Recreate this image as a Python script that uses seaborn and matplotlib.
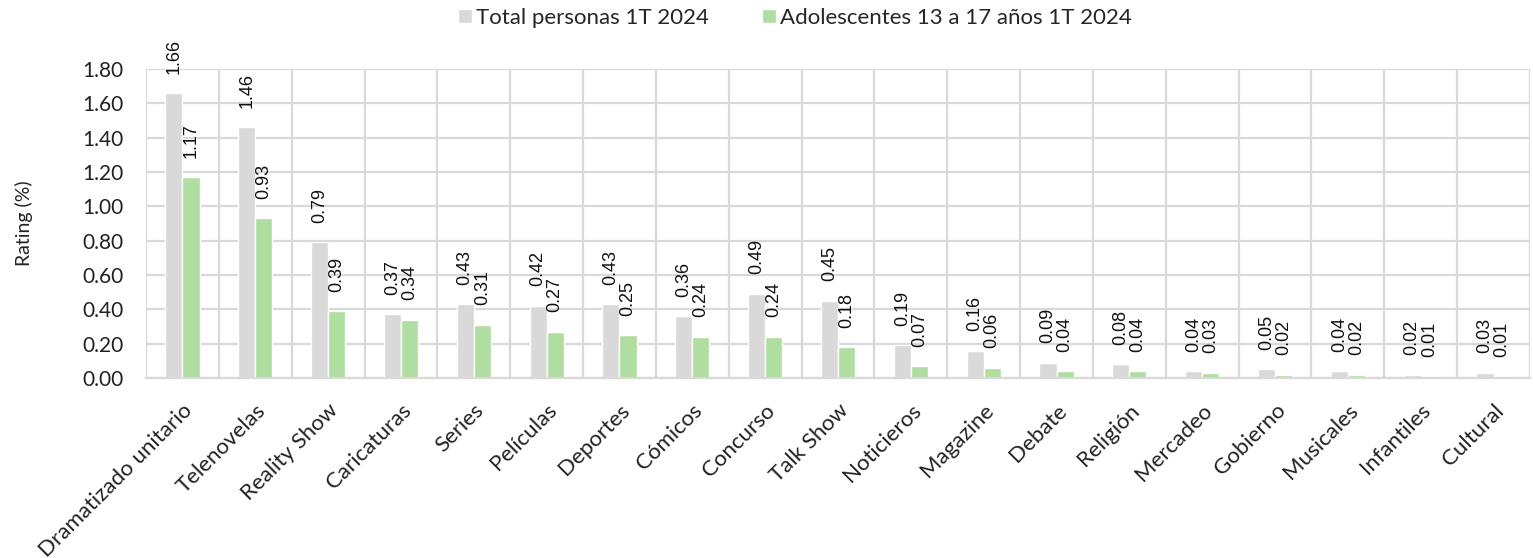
import matplotlib
matplotlib.use("Agg")
import matplotlib.pyplot as plt
import seaborn as sns
import pandas as pd
import numpy as np

categories = ["Dramatizado unitario", "Telenovelas", "Reality Show", "Caricaturas", "Series",
              "Películas", "Deportes", "Cómicos", "Concurso", "Talk Show", "Noticieros",
              "Magazine", "Debate", "Religión", "Mercadeo", "Gobierno", "Musicales",
              "Infantiles", "Cultural"]
total = [1.66, 1.46, 0.79, 0.37, 0.43, 0.42, 0.43, 0.36, 0.49, 0.45, 0.19, 0.16, 0.09,
         0.08, 0.04, 0.05, 0.04, 0.02, 0.03]
adolescentes = [1.17, 0.93, 0.39, 0.34, 0.31, 0.27, 0.25, 0.24, 0.24, 0.18, 0.07, 0.06,
                0.04, 0.04, 0.03, 0.02, 0.02, 0.01, 0.01]
series_names = ["Total personas 1T 2024", "Adolescentes 13 a 17 años 1T 2024"]
colors = ["#d9d9d9", "#b0dda0"]

df = pd.DataFrame({
    "Categoria": categories * 2,
    "Rating": total + adolescentes,
    "Serie": [series_names[0]] * len(categories) + [series_names[1]] * len(categories),
})

sns.set_theme(style="white")
plt.rcParams["font.family"] = ["Lato", "DejaVu Sans"]

fig = plt.figure(figsize=(15.33, 5.58), dpi=100)
ax = fig.add_axes([146 / 1533, 1 - 378 / 558, (1530 - 146) / 1533, (378 - 69) / 558])

sns.barplot(data=df, x="Categoria", y="Rating", hue="Serie", palette=colors,
            width=0.47, gap=0, ax=ax, legend=True, saturation=1)

ax.set_ylim(0, 1.8)
ax.set_xlim(-0.5, len(categories) - 0.5)
ax.set_yticks(np.arange(0, 1.81, 0.2))
ax.set_yticklabels([f"{v:.2f}" for v in np.arange(0, 1.81, 0.2)], fontsize=15, color="#222222")
ax.set_xticks(range(len(categories)))
ax.set_xticklabels(categories, rotation=45, ha="right", rotation_mode="anchor",
                   fontsize=16, color="#222222")
ax.tick_params(axis="x", length=0, pad=16)
ax.tick_params(axis="y", length=0, pad=16)

ax.set_xticks(np.arange(-0.5, len(categories), 1), minor=True)
ax.grid(axis="y", which="major", color="#d9d9d9", linewidth=1.6)
ax.grid(axis="x", which="minor", color="#d9d9d9", linewidth=1.6)
ax.grid(axis="x", which="major", visible=False)
ax.set_axisbelow(True)
for s in ["top", "right", "left"]:
    ax.spines[s].set_visible(False)
ax.spines["bottom"].set_color("#d9d9d9")
ax.spines["bottom"].set_linewidth(1.6)

ax.set_xlabel("")
ax.set_ylabel("Rating (%)", fontsize=14, color="#222222", labelpad=36)

for cont in ax.containers:
    ax.bar_label(cont, fmt="%.2f", rotation=90, padding=14, fontsize=13,
                 family=["Liberation Sans", "DejaVu Sans"], color="#111111", clip_on=False)

handles, labels = ax.get_legend_handles_labels()
ax.legend_.remove()
fig.legend(handles, labels, loc="center", bbox_to_anchor=(795 / 1533, 1 - 18 / 558),
           ncol=2, frameon=False, fontsize=16, handlelength=0.6, handleheight=0.6,
           handletextpad=0.2, columnspacing=2.4)

fig.savefig("out.png", dpi=100)
